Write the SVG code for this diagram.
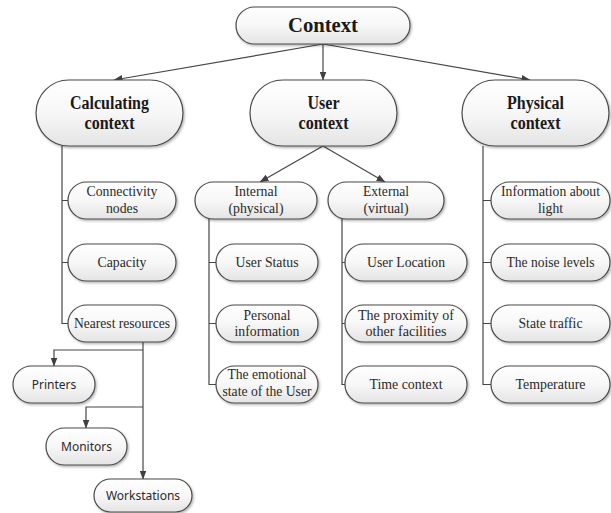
<svg xmlns="http://www.w3.org/2000/svg" width="611" height="513" viewBox="0 0 611 513">
<defs>
<linearGradient id="g" x1="0" y1="0" x2="0" y2="1">
<stop offset="0" stop-color="#ffffff"/>
<stop offset="0.5" stop-color="#f7f7f7"/>
<stop offset="1" stop-color="#e4e4e4"/>
</linearGradient>
<filter id="sh" x="-10%" y="-10%" width="130%" height="140%">
<feDropShadow dx="1.2" dy="1.5" stdDeviation="0.8" flood-color="#000" flood-opacity="0.3"/>
</filter>
<marker id="ah" markerWidth="9" markerHeight="7" refX="8.5" refY="3.5" orient="auto" markerUnits="userSpaceOnUse">
<path d="M0,0 L9,3.5 L0,7 Z" fill="#404040"/>
</marker>
<style>
.b{fill:url(#g);stroke:#4a4a4a;stroke-width:1.2;filter:url(#sh)}
.t{font-family:"Liberation Serif","Times New Roman",serif;font-size:15px;fill:#2a2a2a;text-anchor:middle}
.h{font-family:"Liberation Serif","Times New Roman",serif;font-size:18px;font-weight:bold;fill:#1a1a1a;text-anchor:middle}
.s{font-family:"Noto Sans","Open Sans",sans-serif;font-size:12px;fill:#2a2a2a;text-anchor:middle}
.c{fill:none;stroke:#474747;stroke-width:1.2}
</style>
</defs>
<rect width="611" height="513" fill="#ffffff"/>

<g id="connectors">
<line class="c" x1="323" y1="44" x2="114" y2="80" marker-end="url(#ah)"/>
<line class="c" x1="323" y1="44" x2="323" y2="80" marker-end="url(#ah)"/>
<line class="c" x1="323" y1="44" x2="530" y2="80" marker-end="url(#ah)"/>
<line class="c" x1="323" y1="146" x2="260" y2="182" marker-end="url(#ah)"/>
<line class="c" x1="323" y1="146" x2="385" y2="182" marker-end="url(#ah)"/>
<path class="c" d="M62,146 V323.5 H68 M62,200.5 H68 M62,262.5 H68"/>
<path class="c" d="M209,219 V384.5 H216 M209,262.5 H216 M209,323.5 H216"/>
<path class="c" d="M342,219 V384.5 H345 M342,262.5 H345 M342,323.5 H345"/>
<path class="c" d="M483,146 V384.5 H491 M483,200.5 H491 M483,262.5 H491 M483,323.5 H491"/>
<line class="c" x1="143" y1="342" x2="143" y2="479" marker-end="url(#ah)"/>
<path class="c" d="M143,350 H54 V366" marker-end="url(#ah)"/>
<path class="c" d="M143,407 H86 V428" marker-end="url(#ah)"/>
</g>

<g id="context">
<rect class="b" x="236" y="7" width="174" height="37" rx="18.5"/>
<text x="323" y="32" style="font-family:'Liberation Serif','Times New Roman',serif;font-size:22px;font-weight:bold;fill:#1a1a1a;text-anchor:middle" textLength="70" lengthAdjust="spacingAndGlyphs">Context</text>
</g>

<g id="calculating-context">
<rect class="b" x="36" y="80" width="147" height="66" rx="33"/>
<text class="h" x="109.5" y="109" textLength="79" lengthAdjust="spacingAndGlyphs">Calculating</text>
<text class="h" x="109.5" y="129" textLength="50" lengthAdjust="spacingAndGlyphs">context</text>
</g>

<g id="user-context">
<rect class="b" x="250" y="80" width="147" height="66" rx="33"/>
<text class="h" x="323.5" y="109" textLength="32" lengthAdjust="spacingAndGlyphs">User</text>
<text class="h" x="323.5" y="129" textLength="50" lengthAdjust="spacingAndGlyphs">context</text>
</g>

<g id="physical-context">
<rect class="b" x="462" y="80" width="147" height="66" rx="33"/>
<text class="h" x="535.5" y="109" textLength="57" lengthAdjust="spacingAndGlyphs">Physical</text>
<text class="h" x="535.5" y="129" textLength="50" lengthAdjust="spacingAndGlyphs">context</text>
</g>

<g id="connectivity-nodes">
<rect class="b" x="68" y="182" width="108" height="37" rx="18.5"/>
<text class="t" x="122" y="196" textLength="71" lengthAdjust="spacingAndGlyphs">Connectivity</text>
<text class="t" x="122" y="213" textLength="32" lengthAdjust="spacingAndGlyphs">nodes</text>
</g>
<g id="capacity">
<rect class="b" x="68" y="244" width="108" height="37" rx="18.5"/>
<text class="t" x="122" y="267" textLength="49" lengthAdjust="spacingAndGlyphs">Capacity</text>
</g>
<g id="nearest-resources">
<rect class="b" x="68" y="305" width="108" height="37" rx="18.5"/>
<text class="t" x="122" y="328" textLength="96" lengthAdjust="spacingAndGlyphs">Nearest resources</text>
</g>

<g id="internal">
<rect class="b" x="195" y="182" width="122" height="37" rx="18.5"/>
<text class="t" x="256" y="196" textLength="43" lengthAdjust="spacingAndGlyphs">Internal</text>
<text class="t" x="256" y="213" textLength="55" lengthAdjust="spacingAndGlyphs">(physical)</text>
</g>
<g id="user-status">
<rect class="b" x="216" y="244" width="102" height="37" rx="18.5"/>
<text class="t" x="267" y="267" textLength="63" lengthAdjust="spacingAndGlyphs">User Status</text>
</g>
<g id="personal-information">
<rect class="b" x="216" y="305" width="102" height="37" rx="18.5"/>
<text class="t" x="267" y="320" textLength="47" lengthAdjust="spacingAndGlyphs">Personal</text>
<text class="t" x="267" y="336" textLength="65" lengthAdjust="spacingAndGlyphs">information</text>
</g>
<g id="emotional-state">
<rect class="b" x="216" y="366" width="102" height="37" rx="18.5"/>
<text class="t" x="267" y="379" textLength="79" lengthAdjust="spacingAndGlyphs">The emotional</text>
<text class="t" x="267" y="396" textLength="89" lengthAdjust="spacingAndGlyphs">state of the User</text>
</g>

<g id="external">
<rect class="b" x="328" y="182" width="116" height="37" rx="18.5"/>
<text class="t" x="386" y="196" textLength="46" lengthAdjust="spacingAndGlyphs">External</text>
<text class="t" x="386" y="213" textLength="45" lengthAdjust="spacingAndGlyphs">(virtual)</text>
</g>
<g id="user-location">
<rect class="b" x="345" y="244" width="122" height="37" rx="18.5"/>
<text class="t" x="406" y="267" textLength="78" lengthAdjust="spacingAndGlyphs">User Location</text>
</g>
<g id="proximity">
<rect class="b" x="345" y="305" width="122" height="37" rx="18.5"/>
<text class="t" x="406" y="320" textLength="96" lengthAdjust="spacingAndGlyphs">The proximity of</text>
<text class="t" x="406" y="336" textLength="81" lengthAdjust="spacingAndGlyphs">other facilities</text>
</g>
<g id="time-context">
<rect class="b" x="345" y="366" width="122" height="37" rx="18.5"/>
<text class="t" x="406" y="389" textLength="73" lengthAdjust="spacingAndGlyphs">Time context</text>
</g>

<g id="information-light">
<rect class="b" x="491" y="182" width="119" height="37" rx="18.5"/>
<text class="t" x="550.5" y="196" textLength="99" lengthAdjust="spacingAndGlyphs">Information about</text>
<text class="t" x="550.5" y="213" textLength="25" lengthAdjust="spacingAndGlyphs">light</text>
</g>
<g id="noise-levels">
<rect class="b" x="491" y="244" width="119" height="37" rx="18.5"/>
<text class="t" x="550.5" y="267" textLength="88" lengthAdjust="spacingAndGlyphs">The noise levels</text>
</g>
<g id="state-traffic">
<rect class="b" x="491" y="305" width="119" height="37" rx="18.5"/>
<text class="t" x="550.5" y="328" textLength="64" lengthAdjust="spacingAndGlyphs">State traffic</text>
</g>
<g id="temperature">
<rect class="b" x="491" y="366" width="119" height="37" rx="18.5"/>
<text class="t" x="550.5" y="389" textLength="70" lengthAdjust="spacingAndGlyphs">Temperature</text>
</g>

<g id="printers">
<rect class="b" x="13" y="366" width="82" height="37" rx="18.5"/>
<text class="s" x="54" y="389">Printers</text>
</g>
<g id="monitors">
<rect class="b" x="46" y="428" width="81" height="37" rx="18.5"/>
<text class="s" x="86.5" y="451">Monitors</text>
</g>
<g id="workstations">
<rect class="b" x="94" y="479" width="98" height="33" rx="16.5"/>
<text class="s" x="143" y="500">Workstations</text>
</g>
</svg>
